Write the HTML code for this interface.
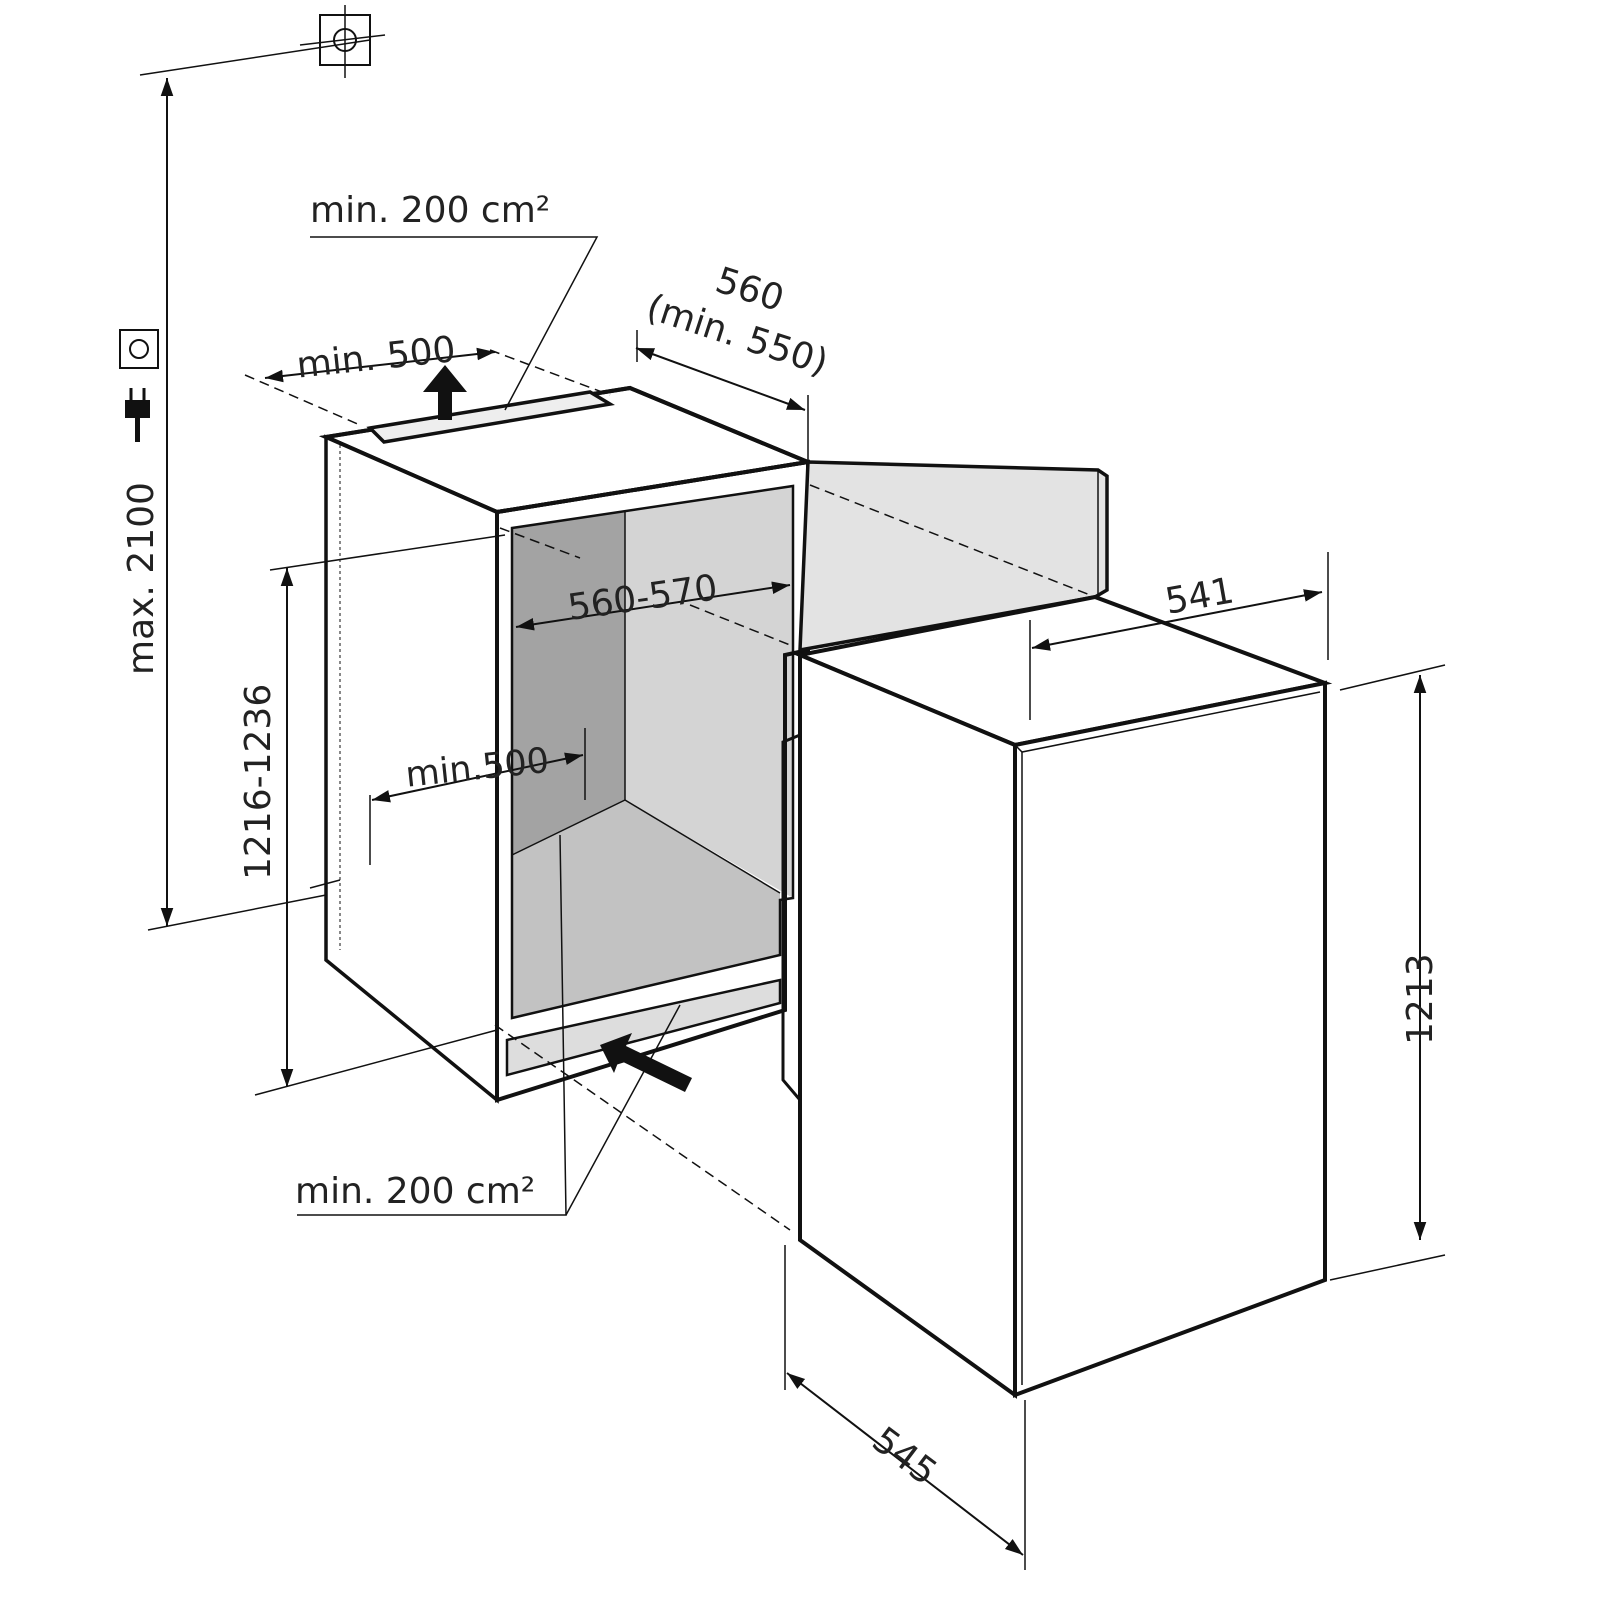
<!DOCTYPE html>
<html><head><style>html,body{margin:0;padding:0;background:#fff}svg{display:block}text{font-family:"DejaVu Sans","Liberation Sans",sans-serif;fill:#222}</style></head>
<body>
<svg width="1600" height="1600" viewBox="0 0 1600 1600" xmlns="http://www.w3.org/2000/svg">
<defs>
<marker id="a" viewBox="0 0 10 10" refX="10" refY="5" markerWidth="9" markerHeight="9" orient="auto-start-reverse"><path d="M0,1.5 L10,5 L0,8.5z" fill="#111"/></marker>
</defs>
<g stroke="#111" fill="none">
<polygon points="512,528 625,512 625,800 512,855" fill="#a3a3a3" stroke="none"/>
<polygon points="625,512 793,486 793,898 625,800" fill="#d4d4d4" stroke="none"/>
<polygon points="512,855 625,800 780,893 780,955 512,1018" fill="#c2c2c2" stroke="none"/>
<line x1="625" y1="512" x2="625" y2="800" stroke-width="1.5"/>
<line x1="625" y1="800" x2="780" y2="893" stroke-width="1.5"/>
<line x1="625" y1="800" x2="512" y2="855" stroke-width="1.5"/>
<polygon points="326,437 630,388 808,462 497,512" fill="#fff" stroke-width="4"/>
<polygon points="326,437 497,512 497,1100 326,960" fill="#fff" stroke-width="3.5"/>
<polygon points="326,437 630,388 808,462 497,512" fill="none" stroke-width="4"/>
<polygon points="497,512 808,462 808,650 785,655 785,1010 497,1100" fill="none" stroke-width="4"/>
<polygon points="512,528 793,486 793,898 780,900 780,955 512,1018" fill="none" stroke-width="2.5"/>
<line x1="340" y1="445" x2="340" y2="950" stroke-dasharray="3,3" stroke-width="1"/>
<polygon points="370,428 590,392 610,404 384,442" fill="#eee" stroke-width="3.5"/>
<polygon points="507,1040 780,980 780,1003 507,1075" fill="#ddd" stroke-width="2.5"/>
<polygon points="808,462 1098,470 1107,476 1107,590 1095,597 800,650" fill="#e3e3e3" stroke-width="3.5"/>
<line x1="1098" y1="470" x2="1098" y2="595" stroke-width="1.5"/>
<polygon points="800,655 1095,597 1325,683 1015,745" fill="#fff" stroke-width="4"/>
<polygon points="1015,745 1325,683 1325,1280 1015,1395" fill="#fff" stroke-width="4"/>
<polygon points="800,655 1015,745 1015,1395 800,1240" fill="#fff" stroke-width="4"/>
<polyline points="1015,745 1022,752 1320,692" stroke-width="1.5"/>
<polyline points="1022,752 1022,1385" stroke-width="1.5"/>
<polyline points="800,735 783,742 783,1080 800,1100" stroke-width="3"/>
<g stroke-dasharray="10,6" stroke-width="1.5">
<line x1="245" y1="375" x2="360" y2="425"/>
<line x1="490" y1="350" x2="610" y2="395"/>
<line x1="810" y1="485" x2="1090" y2="595"/>
<line x1="690" y1="605" x2="790" y2="645"/>
<line x1="500" y1="528" x2="580" y2="558"/>
<line x1="495" y1="1025" x2="790" y2="1230"/>
</g>
<g stroke-width="1.5">
<line x1="140" y1="75" x2="370" y2="40"/>
<line x1="148" y1="930" x2="326" y2="895"/>
<line x1="270" y1="570" x2="505" y2="535"/>
<line x1="255" y1="1095" x2="497" y2="1030"/>
<line x1="310" y1="888" x2="340" y2="880"/>
<line x1="637" y1="330" x2="637" y2="362"/>
<line x1="808" y1="395" x2="808" y2="460"/>
<line x1="1030" y1="620" x2="1030" y2="720"/>
<line x1="1328" y1="552" x2="1328" y2="660"/>
<line x1="1340" y1="690" x2="1445" y2="665"/>
<line x1="1330" y1="1280" x2="1445" y2="1255"/>
<line x1="785" y1="1245" x2="785" y2="1390"/>
<line x1="1025" y1="1400" x2="1025" y2="1570"/>
<line x1="370" y1="795" x2="370" y2="865"/>
<line x1="585" y1="728" x2="585" y2="800"/>
<polyline points="310,237 597,237 505,410"/>
<polyline points="297,1215 566,1215 560,835"/>
<line x1="566" y1="1215" x2="680" y2="1005"/>
</g>
<g stroke-width="2" marker-start="url(#a)" marker-end="url(#a)">
<line x1="167" y1="78" x2="167" y2="926"/>
<line x1="287" y1="568" x2="287" y2="1087"/>
<line x1="1420" y1="675" x2="1420" y2="1240"/>
<line x1="787" y1="1373" x2="1023" y2="1555"/>
<line x1="1032" y1="648" x2="1322" y2="592"/>
<line x1="516" y1="627" x2="790" y2="585"/>
<line x1="372" y1="800" x2="583" y2="755"/>
<line x1="636" y1="348" x2="805" y2="410"/>
<line x1="265" y1="378" x2="495" y2="352"/>
</g>
<path d="M438,420 L438,392 L423,392 L445,365 L467,392 L452,392 L452,420z" fill="#111" stroke="none"/>
<path d="M600,1045 L632,1033 L626,1046 L692,1078 L685,1092 L619,1060 L614,1073z" fill="#111" stroke="none"/>
<rect x="320" y="15" width="50" height="50" stroke-width="2"/>
<circle cx="345" cy="40" r="11" stroke-width="2"/>
<line x1="345" y1="5" x2="345" y2="78" stroke-width="1.5"/>
<line x1="300" y1="45" x2="385" y2="35" stroke-width="1.5"/>
<rect x="120" y="330" width="38" height="38" stroke-width="2"/>
<circle cx="139" cy="349" r="9" stroke-width="2"/>
<path d="M125,400 H150 V418 H140 V442 H135 V418 H125z" fill="#111" stroke="none"/>
<line x1="131" y1="388" x2="131" y2="400" stroke-width="3"/><line x1="144" y1="388" x2="144" y2="400" stroke-width="3"/>
</g>
<g font-size="36">
<text x="310" y="222">min. 200 cm²</text>
<text x="295" y="1203">min. 200 cm²</text>
<text x="296" y="370" transform="rotate(-6 370 355)">min. 500</text>
<text x="405" y="780" transform="rotate(-6 470 765)" font-size="35">min.500</text>
<text x="567" y="610" transform="rotate(-8 640 595)">560-570</text>
<text x="1165" y="608" transform="rotate(-10 1200 595)">541</text>
<text x="715" y="300" transform="rotate(18 745 290)">560</text>
<text x="640" y="345" transform="rotate(18 730 345)">(min. 550)</text>
<text transform="translate(153,675) rotate(-90)">max. 2100</text>
<text transform="translate(270,880) rotate(-90)">1216-1236</text>
<text transform="translate(1432,1045) rotate(-90)">1213</text>
<text transform="translate(870,1445) rotate(37)">545</text>
</g>
</svg>
</body></html>
